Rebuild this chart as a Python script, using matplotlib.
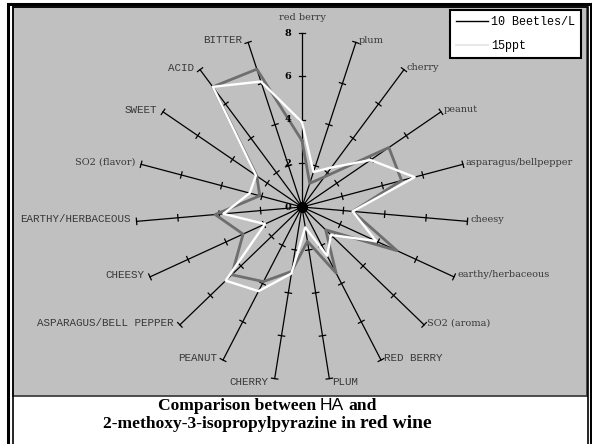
#!/usr/bin/env python3
"""
Radar chart: Comparison between HA and 2-methoxy-3-isopropylpyrazine in red wine
"""

import numpy as np
import matplotlib
matplotlib.use("Agg")
import matplotlib.pyplot as plt
from matplotlib.patches import Rectangle
from matplotlib.lines import Line2D

# Dados
ATRIBUTOS = ["red berry", "plum", "cherry", "peanut", "asparagus/bellpepper",
             "cheesy", "earthy/herbaceous", "SO2 (aroma)", "RED BERRY", "PLUM",
             "CHERRY", "PEANUT", "ASPARAGUS/BELL PEPPER", "CHEESY",
             "EARTHY/HERBACEOUS", "SO2 (flavor)", "SWEET", "ACID", "BITTER"]
BEETLES = [3.05, 1.15, 1.75, 5.0, 4.95, 2.45, 5.0, 1.55, 3.45, 1.6,
           3.0, 3.9, 4.6, 3.1, 4.2, 2.1, 2.6, 7.0, 6.7]
PPT15 = [3.9, 1.7, 2.3, 3.95, 5.6, 2.45, 3.9, 1.9, 2.55, 0.95,
         3.1, 4.4, 5.0, 1.95, 3.8, 2.6, 2.65, 7.0, 6.1]
ESCALA = [0, 2, 4, 6, 8]
SERIES = ["10 Beetles/L", "15ppt"]

# Geometria (pixels)
W, H = 592, 444
CX, CY = 302, 207
SX, SY = 20.75, 21.75   # pixels por unidade
RMAX = 8


def fx(x):
    return x / W


def fy(y):
    return 1 - y / H


fig = plt.figure(figsize=(W / 100, H / 100), dpi=100)
fig.patch.set_facecolor("white")

# molduras
fig.add_artist(Rectangle((fx(8), fy(470)), fx(590.5) - fx(8), fy(4.5) - fy(470),
                         fill=False, lw=2.2, ec="black", transform=fig.transFigure))
fig.add_artist(Rectangle((fx(12.5), fy(470)), fx(587.5) - fx(12.5), fy(7) - fy(470),
                         fill=False, lw=1.2, ec="black", transform=fig.transFigure))

left, right, top, bottom = 13, 587, 7.5, 396
ax = fig.add_axes([fx(left), fy(bottom), fx(right) - fx(left), fy(top) - fy(bottom)])
ax.set_facecolor("#c0c0c0")
ax.set_xlim(-(CX - left) / SX, (right - CX) / SX)
ax.set_ylim(-(bottom - CY) / SY, (CY - top) / SY)
ax.set_xticks([])
ax.set_yticks([])
for sp in ax.spines.values():
    sp.set_color("#404040")
    sp.set_linewidth(1.3)

n = len(ATRIBUTOS)
theta = np.arange(n) * 2 * np.pi / n
s, c = np.sin(theta), np.cos(theta)

# raios e marcas
for i in range(n):
    ax.plot([0, RMAX * s[i]], [0, RMAX * c[i]], color="black", lw=0.9, zorder=2)
    # direção perpendicular em pixels
    px, py = SY * c[i], -SX * s[i]
    norm = np.hypot(px, py)
    dx, dy = 3.2 * px / norm / SX, 3.2 * py / norm / SY
    for r in ESCALA[1:]:
        x0, y0 = r * s[i], r * c[i]
        ax.plot([x0 - dx, x0 + dx], [y0 - dy, y0 + dy], color="black", lw=0.9, zorder=2)

# séries
ang = np.append(theta, theta[0])
v1 = np.append(BEETLES, BEETLES[0])
v2 = np.append(PPT15, PPT15[0])
ax.plot(v1 * np.sin(ang), v1 * np.cos(ang), color="#6e6e6e", lw=2.0, zorder=3)
ax.plot(v2 * np.sin(ang), v2 * np.cos(ang), color="white", lw=1.7, zorder=4)

ax.plot(0, 0, "o", ms=7, color="black", zorder=5)

# rótulos da escala
for v in ESCALA:
    ax.annotate(str(v), (0, v), xytext=(-14, 0), textcoords="offset pixels",
                ha="center", va="center", fontsize=7, fontweight="bold",
                family="DejaVu Serif", zorder=6)

# rótulos dos atributos
for i, nome in enumerate(ATRIBUTOS):
    x0, y0 = RMAX * s[i], RMAX * c[i]
    if i == 0:
        ha, off = "center", (0, 15)
    elif s[i] > 0:
        ha, off = "left", (3, 2 if c[i] > -0.9 else -3)
    else:
        ha, off = "right", (-6, 2 if c[i] > -0.9 else -3)
    if nome.isupper() and "(" not in nome:
        fonte = {"family": "Liberation Mono", "size": 7.8}
    else:
        fonte = {"family": "DejaVu Serif", "size": 7}
    ax.annotate(nome, (x0, y0), xytext=off, textcoords="offset pixels",
                ha=ha, va="center", color="#383838", **fonte)

# legenda
handles = [Line2D([], [], color="black", lw=1.0),
           Line2D([], [], color="#e8e8e8", lw=1.5)]
leg = fig.legend(handles, SERIES, loc="upper left",
                 bbox_to_anchor=(fx(450), fy(10)), bbox_transform=fig.transFigure,
                 prop={"family": "Liberation Mono", "size": 8.5},
                 handlelength=2.7, handletextpad=0.3, borderpad=0.5,
                 labelspacing=1.0, fancybox=False, framealpha=1, borderaxespad=0)
leg.get_frame().set_edgecolor("black")
leg.get_frame().set_linewidth(1.5)

# título com fontes mistas
fig.canvas.draw()
renderer = fig.canvas.get_renderer()


def linha(partes, cx, base):
    txts = []
    for txt, kw in partes:
        t = fig.text(0, fy(base), txt, va="baseline", ha="left", **kw)
        txts.append(t)
    gap = 4
    larg = [t.get_window_extent(renderer).width for t in txts]
    total = sum(larg) + gap * (len(txts) - 1)
    x = cx - total / 2
    for t, w in zip(txts, larg):
        t.set_x(fx(x))
        x += w + gap


serif = {"family": "Liberation Serif", "weight": "bold", "size": 12.6}
sans = {"family": "Liberation Sans", "size": 12.6}
big = {"family": "Liberation Serif", "weight": "bold", "size": 14}
linha([("Comparison between", serif), ("HA", sans), ("and", serif)], 267, 410)
linha([("2-methoxy-3-isopropylpyrazine in", serif), ("red wine", big)], 267, 428)

fig.savefig("out.png", dpi=100)
